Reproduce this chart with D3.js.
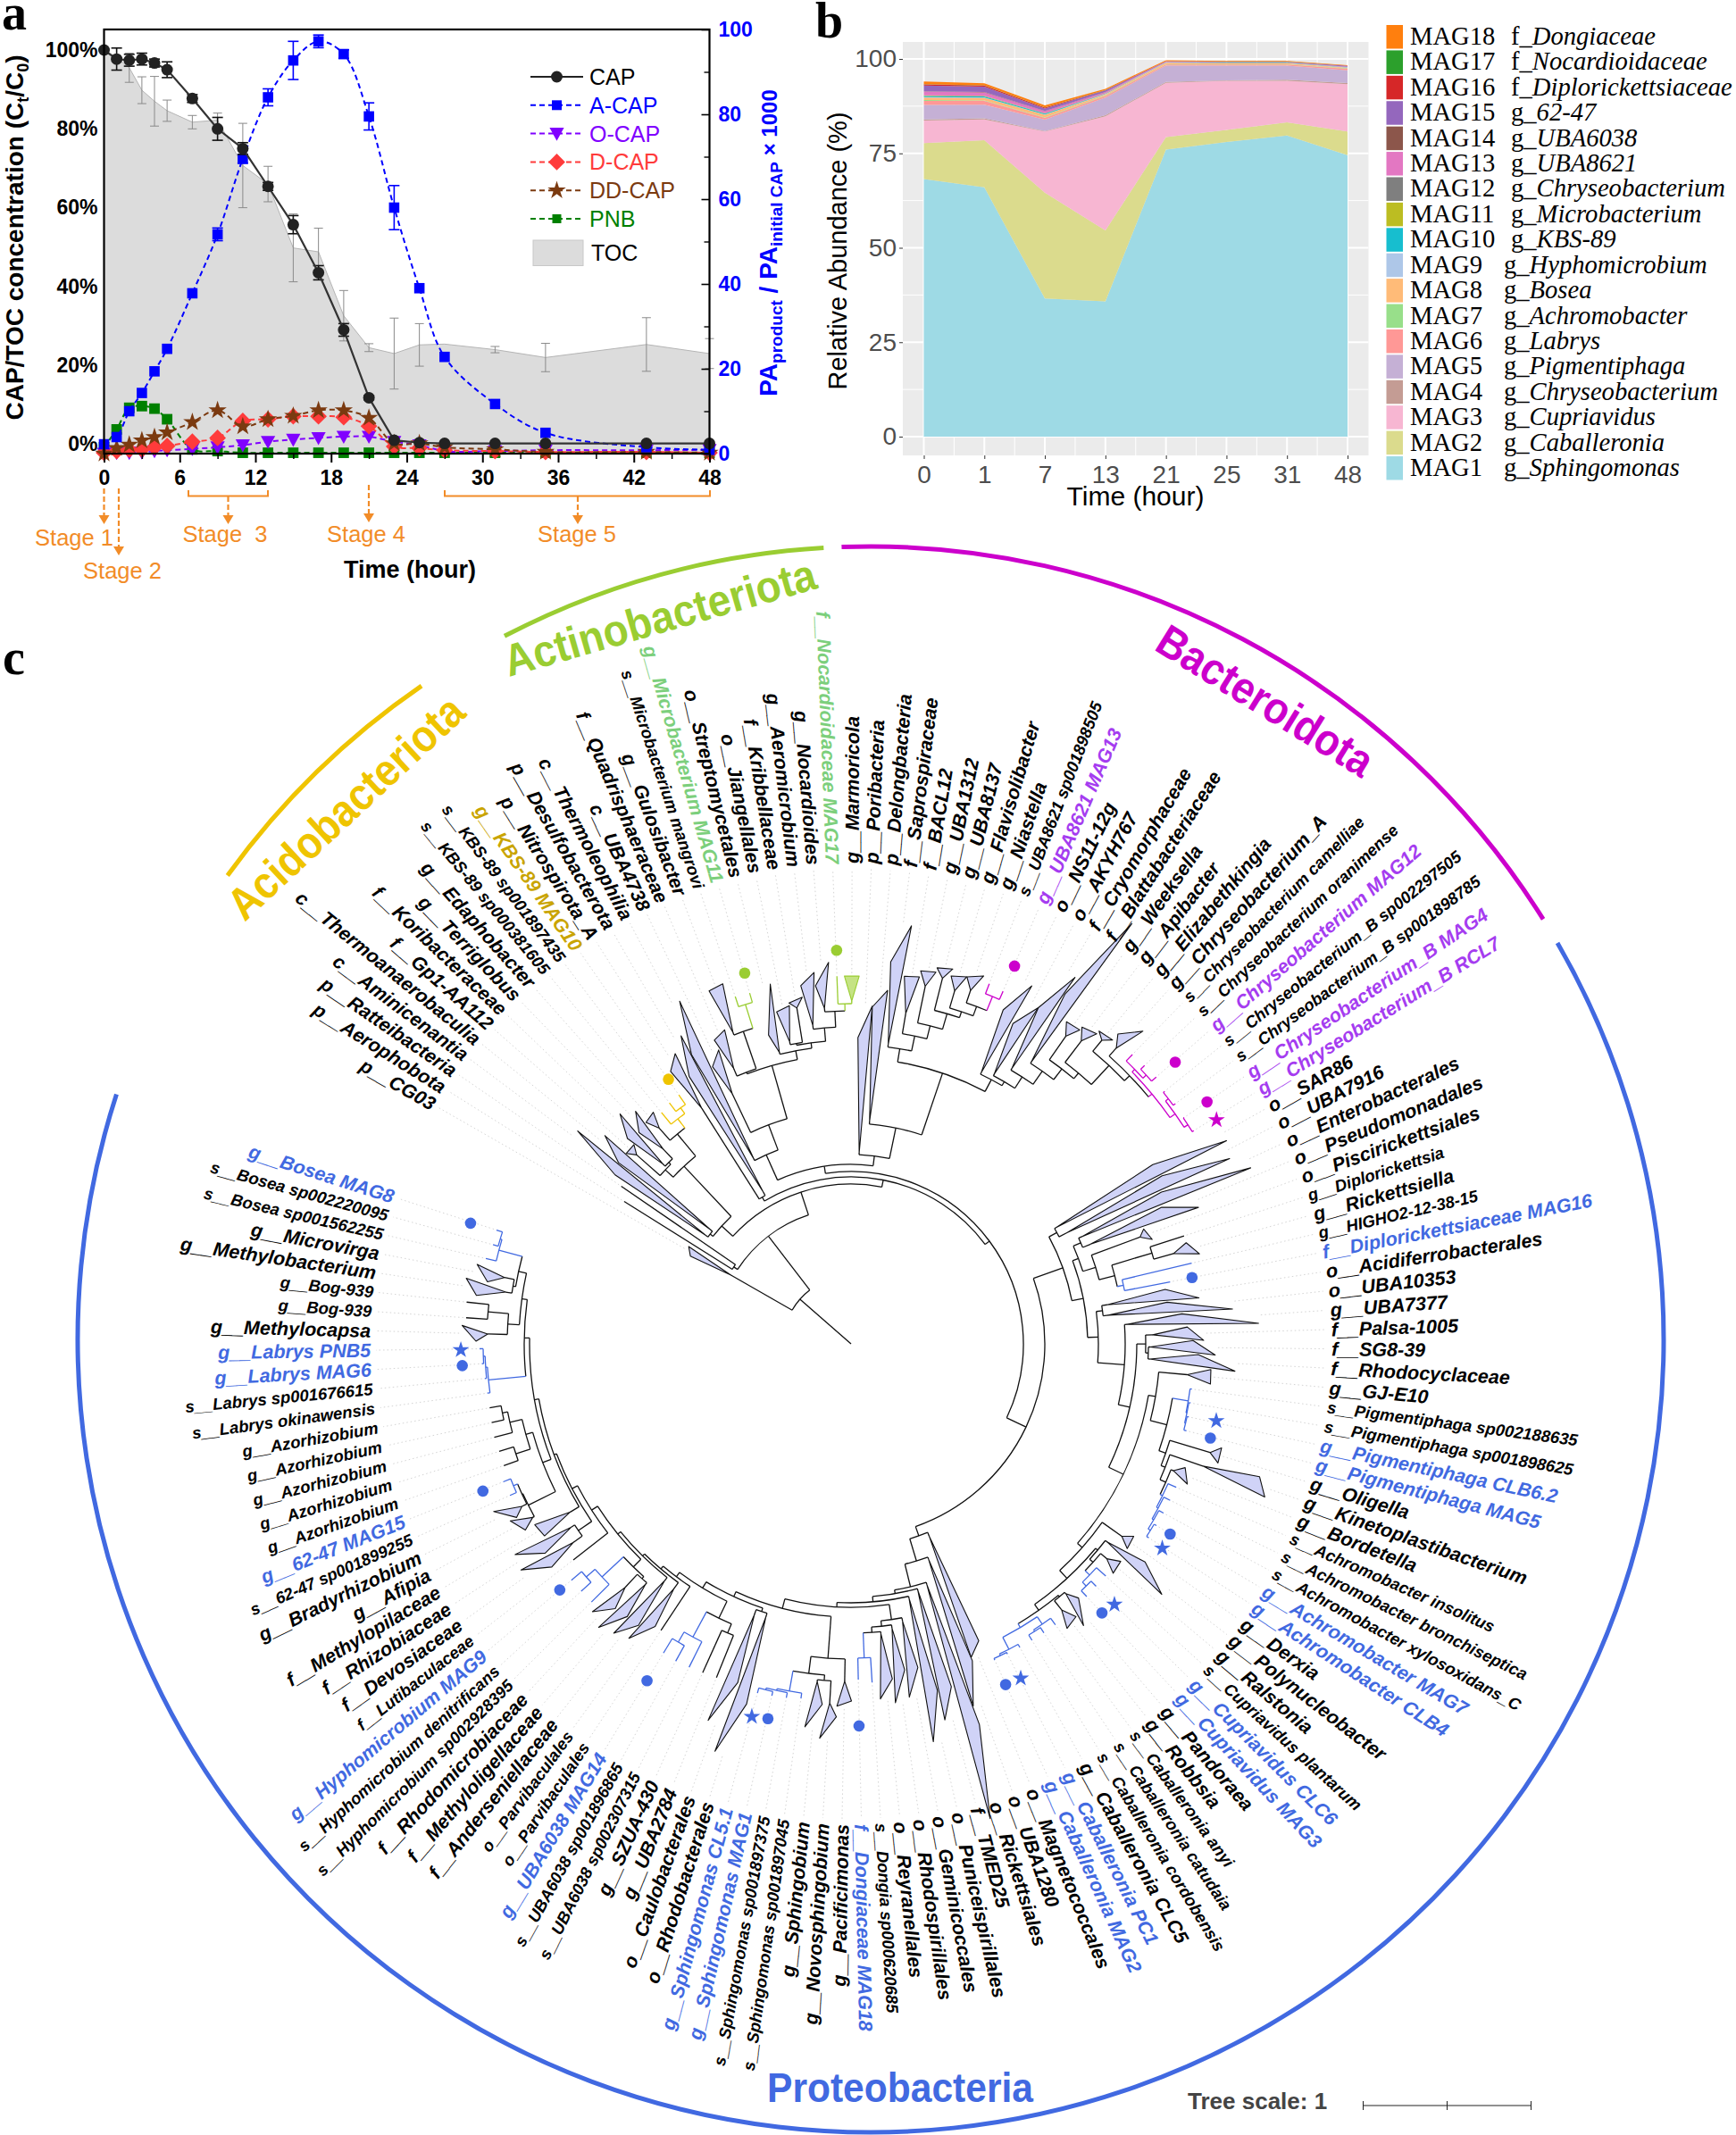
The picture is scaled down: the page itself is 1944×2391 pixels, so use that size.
<!DOCTYPE html>
<html>
<head>
<meta charset="utf-8">
<script src="https://cdnjs.cloudflare.com/ajax/libs/d3/7.8.5/d3.min.js"></script>
<style>
body { margin: 0; background: #fff; }
text { font-family: "Liberation Sans", Arial, sans-serif; }
</style>
</head>
<body>
<svg id="fig" width="1944" height="2391"></svg>
<script>
// ---------- panel a data ----------
const hours = [0,1,2,3,4,5,7,9,11,13,15,17,19,21,23,25,27,31,35,43,48];
const capPct = [100,97.7,97.4,97.7,96.7,95,87.7,80,75,65.4,55.7,43.5,29,11.8,1,0.4,0.2,0.2,0.2,0.2,0.2];
const capErr = [0,2.8,1.5,1.5,1,2,1,2.9,1.5,1,2.3,1.8,1.6,0.5,0,0,0,0,0,0,0];
const tocPct = [100,98,95.5,89.8,87,84.6,81.7,82.2,70.7,66,49.8,48.8,32.6,24.5,23,25.2,25.4,24,22,25.3,23];
const tocErr = [0,0,3.7,3.4,6.3,2.7,1.7,1.8,10.7,4.5,8.6,6,6.4,1,9,5.4,0,0.8,3.6,6.8,3.8];
const aCap = [2.2,3.9,10,14.3,19.4,24.7,37.8,51.7,69.5,84,92.7,97.2,94.2,79.5,58,39,22.8,11.7,4.9,1.5,0.9];
const aCapErr = [0,0,0,0,0,0,0,1.5,1,2,4.5,1.5,1,3.2,5.2,0,0,0,0,0,0];
const oCap = [0,0.2,0.2,0.3,0.6,0.8,1.1,1.5,2,2.8,3.3,3.7,4,4,2.8,2,0.6,0.6,0.8,0.8,0.9];
const dCap = [0.2,0.6,0.9,1,1.5,1.8,2.8,3.7,7.7,8.1,8.8,8.8,8.6,6.5,1.7,1.3,0.8,0.6,0.4,0.4,0.2];
const ddCap = [0,1.3,2.1,3.1,3.9,5,7.4,10.2,6.4,8.1,8.9,10.2,10.2,8.4,2.4,2.4,1.5,1,0.4,0.4,0.2];
const pnb = [1.5,5.7,10.8,11.2,10.6,8.1,1,0.6,0.2,0.2,0.2,0.2,0.2,0.2,0.2,0.2,0.2,0.2,0.2,0.2,0.2];
const legendA = ["CAP","A-CAP","O-CAP","D-CAP","DD-CAP","PNB"];

// ---------- panel b data ----------
const sampleHours = ["0","1","7","13","21","25","31","48"];
const mag1 = [68.2,66,36.6,35.8,76,78,79.7,74.5];
const mag2 = [9.5,12.5,28,18.8,3.3,3.2,3.5,6.3];
const mag3 = [6,5.5,16.2,30.2,14.4,13,11,12.5];
const mag4 = [0.3,0.3,0.1,0.3,0.2,0.1,0.3,0.3];
const mag5 = [3.8,3.6,3,4.7,4.3,3.9,3.7,3.4];
const mag6 = [1.1,1,0.5,0.4,0.3,0.3,0.3,0.4];
const mag7 = [0.2,0.1,0.1,0.1,0.1,0.1,0.1,0.1];
const mag8 = [0.7,0.7,0.7,0.3,0.4,0.3,0.3,0.2];
const mag9 = [0.1,0.1,0.1,0.1,0.05,0.05,0.05,0.05];
const mag10 = [0.3,0.3,0.2,0.1,0.05,0.05,0.05,0.05];
const mag11 = [0.1,0.1,0.1,0.05,0.02,0.02,0.02,0.02];
const mag12 = [0.05,0.05,0.05,0.05,0.02,0.02,0.02,0.02];
const mag13 = [1,0.9,0.5,0.3,0.1,0.05,0.05,0.1];
const mag14 = [0.1,0.1,0.05,0.05,0.02,0.02,0.02,0.02];
const mag15 = [1.5,1.4,0.7,0.4,0.1,0.1,0.1,0.2];
const mag16 = [0.3,0.3,0.2,0.1,0.05,0.05,0.05,0.05];
const mag17 = [0.1,0.1,0.1,0.05,0.02,0.02,0.02,0.02];
const mag18 = [0.7,0.5,0.5,0.3,0.2,0.2,0.2,0.1];
const magSeries = [mag1,mag2,mag3,mag4,mag5,mag6,mag7,mag8,mag9,mag10,mag11,mag12,mag13,mag14,mag15,mag16,mag17,mag18];
const magRanks = ["g_","g_","g_","g_","g_","g_","g_","g_","g_","g_","g_","g_","g_","g_","g_","f_","f_","f_"];
const magNames = ["Sphingomonas","Caballeronia","Cupriavidus","Chryseobacterium","Pigmentiphaga","Labrys","Achromobacter","Bosea","Hyphomicrobium","KBS-89","Microbacterium","Chryseobacterium","UBA8621","UBA6038","62-47","Diplorickettsiaceae","Nocardioidaceae","Dongiaceae"];
const magColors = ["#9edae5","#dbdb8d","#f7b6d2","#c49c94","#c5b0d5","#ff9896","#98df8a","#ffbb78","#aec7e8","#17becf","#bcbd22","#7f7f7f","#e377c2","#8c564b","#9467bd","#d62728","#2ca02c","#ff7f0e"];

// ---------- panel c data ----------
// tips clockwise, starting at p__CG03
const treeLabels = ["p__CG03","p__Aerophobota","p__Ratteibacteria","c__Aminicenantia","c__Thermoanaerobaculia","f__Gp1-AA112","f__Koribacteraceae","g__Terriglobus","g__Edaphobacter","s__KBS-89 sp000381605","s__KBS-89 sp001897435","g__KBS-89 MAG10","p__Nitrospirota_A","p__Desulfobacterota","c__Thermoleophilia","c__UBA4738","f__Quadrisphaeraceae","g__Gulosibacter","s__Microbacterium mangrovi","g__Microbacterium MAG11","o__Streptomycetales","o__Jiangellales","f__Kribbellaceae","g__Aeromicrobium","g__Nocardioides","f__Nocardioidaceae MAG17","g__Marmoricola","p__Poribacteria","p__Delongbacteria","f__Saprospiraceae","f__BACL12","g__UBA1312","g__UBA8137","g__Flavisolibacter","g__Niastella","s__UBA8621 sp001898505","g__UBA8621 MAG13","o__NS11-12g","o__AKYH767","f__Cryomorphaceae","f__Blattabacteriaceae","g__Weeksella","g__Apibacter","g__Elizabethkingia","g__Chryseobacterium_A","s__Chryseobacterium camelliae","s__Chryseobacterium oranimense","g__Chryseobacterium MAG12","s__Chryseobacterium_B sp002297505","s__Chryseobacterium_B sp001898785","g__Chryseobacterium_B MAG4","g__Chryseobacterium_B RCL7","o__SAR86","o__UBA7916","o__Enterobacterales","o__Pseudomonadales","o__Piscirickettsiales","g__Diplorickettsia","g__Rickettsiella","g__HIGHO2-12-38-15","f__Diplorickettsiaceae MAG16","o__Acidiferrobacterales","o__UBA10353","g__UBA7377","f__Palsa-1005","f__SG8-39","f__Rhodocyclaceae","g__GJ-E10","s__Pigmentiphaga sp002188635","s__Pigmentiphaga sp001898625","g__Pigmentiphaga CLB6.2","g__Pigmentiphaga MAG5","g__Oligella","g__Kinetoplastibacterium","g__Bordetella","s__Achromobacter insolitus","s__Achromobacter bronchiseptica","s__Achromobacter xylosoxidans_C","g__Achromobacter MAG7","g__Achromobacter CLB4","g__Derxia","g__Polynucleobacter","g__Ralstonia","s__Cupriavidus plantarum","g__Cupriavidus CLC6","g__Cupriavidus MAG3","g__Pandoraea","g__Robbsia","s__Caballeronia anyi","s__Caballeronia catudaia","s__Caballeronia cordobensis","g__Caballeronia CLC5","g__Caballeronia PC1","g__Caballeronia MAG2","o__Magnetococcales","o__UBA1280","o__Rickettsiales","f__TMED25","o__Puniceispirillales","o__Geminicoccales","o__Rhodospirillales","o__Reyranellales","s__Dongia sp000620685","f__Dongiaceae MAG18","g__Pacificimonas","g__Novosphingobium","g__Sphingobium","s__Sphingomonas sp001897045","s__Sphingomonas sp001897375","g__Sphingomonas MAG1","g__Sphingomonas CL5.1","o__Rhodobacterales","o__Caulobacterales","g__UBA2784","g__SZUA-430","s__UBA6038 sp002307315","s__UBA6038 sp001896865","g__UBA6038 MAG14","o__Parvibaculales","o__Parvibaculales","f__Anderseniellaceae","f__Methyloligellaceae","f__Rhodomicrobiaceae","s__Hyphomicrobium sp002928395","s__Hyphomicrobium denitrificans","g__Hyphomicrobium MAG9","f__Lutibaculaceae","f__Devosiaceae","f__Rhizobiaceae","f__Methylopilaceae","g__Afipia","g__Bradyrhizobium","s__62-47 sp001899255","g__62-47 MAG15","g__Azorhizobium","g__Azorhizobium","g__Azorhizobium","g__Azorhizobium","g__Azorhizobium","s__Labrys okinawensis","s__Labrys sp001676615","g__Labrys MAG6","g__Labrys PNB5","g__Methylocapsa","g__Bog-939","g__Bog-939","g__Methylobacterium","g__Microvirga","s__Bosea sp001562255","s__Bosea sp002220095","g__Bosea MAG8"];
const smallTipLabels = ["g__Diplorickettsia","g__HIGHO2-12-38-15","g__Bog-939","g__Azorhizobium","f__Lutibaculaceae"];

// tips whose branches are coloured (numbered from 1 along treeLabels)
const acidoTips = [10,11,12];
const actinoTips = [19,20,26,27];
const bacteroTips = [36,37,46,47,48,49,50,51,52];
const proteoTips = [60,61,69,70,71,72,76,77,78,79,80,84,85,86,89,90,91,92,93,94,103,104,108,109,110,111,116,117,118,124,125,126,133,134,140,141,142,143,149,150,151];
const acidoNames = ["g__KBS-89 MAG10"];
const actinoNames = ["g__Microbacterium MAG11","f__Nocardioidaceae MAG17"];
const bacteroNames = ["g__UBA8621 MAG13","g__Chryseobacterium MAG12","g__Chryseobacterium_B MAG4","g__Chryseobacterium_B RCL7"];
const proteoNames = ["f__Diplorickettsiaceae MAG16","g__Pigmentiphaga CLB6.2","g__Pigmentiphaga MAG5","g__Achromobacter MAG7","g__Achromobacter CLB4","g__Cupriavidus CLC6","g__Cupriavidus MAG3","g__Caballeronia PC1","g__Caballeronia MAG2","f__Dongiaceae MAG18","g__Sphingomonas MAG1","g__Sphingomonas CL5.1","g__UBA6038 MAG14","g__Hyphomicrobium MAG9","g__62-47 MAG15","g__Labrys MAG6","g__Labrys PNB5","g__Bosea MAG8"];

// phylogeny: internal node = [distance, child, child]; collapsed clade = [apex, short, long]; single tip = [tip]
const cladeAcido = [196,
  [200,[203,325,388],[203,330,361]],
  [273,
    [285,[320,330,330],[288,[291,340,365],[303,335,355]]],
    [305,[323,338,341],[318,[335],[326,[338],[339]]]]]];
const cladeMicro = [326,[335,373,379],[370,[373,426,428],[398,[410],[409]]]];
const cladeNocard = [334,[336,358,413],[340,[342,[345,381,385],[381,388,392]],[355,[359,405,418],[373,[377,403,428],[381,[412],[384,412,412]]]]]];
const cladeSapro = [335,[338,430,473],[352,[375,416,418],[367,[409,425,427],[385,[422,432,435],[392,[412,427,431],[403,[418,431,438],[420,[432],[430]]]]]]]];
const cladeChryseo = [438,[442,[452],[447,[453],[454]]],[445,[449,[451],[452]],[450,[451],[452]]]];
const cladeBactero = [335,[337,411,449],[340,[342,402,431],[355,[357,431,481],[373,[375,459,566],[388,[420,434,435],[396,[426,439,443],[425,[441,447,449],[433,[445,458,479],cladeChryseo]]]]]]]];
const cladeRickett = [272,[281,[285,387,489],[290,380,418]],[287,[345,352,357],[305,[352,[392],[375,392,403]],[312,[392],[364]]]]];
const cladeBurk = [365,[383,[385],[384,[386],[385,[387],[388]]]],[373,[420,431,432],[378,[417,481,494],[385,[388,399,408],[388,[398],[390,[398],[392,[398],[395,[398],[398]]]]]]]]];
const cladeRalst = [345,[372,383,385],[357,
  [360,[363,410,447],[365,[374,388,390],[372,[386],[378,[386],[387]]]]],
  [365,[367,[369,382,409],[380,396,400]],[370,[380,[389],[382,[389],[389]]],[385,[389],[387,[389],[389]]]]]]];
const cladeBeta = [320,[330,[338,377,395],[333,[335,383,408],[335,389,431]]],[338,[346,[378,404,405],cladeBurk],cladeRalst]];
const cladeGamma = [252,[262,[264,393,478],[272,396,472]],[265,cladeRickett,[277,[284,[290,357,393],[290,357,429]],[307,[310,372,457],cladeBeta]]]];
const cladeDongia = [312,[316,370,401],[318,[322,370,405],[324,[326,378,399],[352,[380],[376]]]]];
const cladeSphingo = [353,[378,400,406],[372,[378,[403,418,443],[380,405,432]],[395,[401],[397,[403],[399,[404],[405]]]]]];
const cladeUba6038 = [341,[352,[403],[404]],[373,[405],[386,[406],[405]]]];
const cladeHypho = [349,[352,[354,395,425],[372,397,417]],[382,[410],[395,[410],[410]]]];
const cladeRhizo = [370,[404,[406,420,430],[405,[411,422,442],[410,[418],[419]]]],[378,[395,[412],[412]],[392,[413],[398,[412],[411]]]]];
const cladeBosea = [366,[408,[411],[410,[412],[412,[414],[416]]]],[372,[385,[407,420,436],[408,[432],[433]]],[381,[384,[391,423,437],[395,413,428]],[408,[420],[410,[416],[417]]]]]];
const cladeLeftArc = [345,[394],[352,[370,[382,418,448],[375,415,444]],[355,[367,405,408],[360,cladeRhizo,cladeBosea]]]];
const cladeParvi = [326,[385],[330,[338,385,413],[333,[337,395,419],[337,cladeHypho,cladeLeftArc]]]];
const cladeAlpha = [228,[232,362,376],[254,[256,380,428],[280,[282,450,554],[284,[286,400,434],[290,[292,400,455],
  [295,cladeDongia,[306,cladeSphingo,[312,[316,[320,420,481],[322,400,451]],[320,cladeUba6038,cladeParvi]]]]]]]]];
const cladeActino = [262,[310,347,361],[324,cladeMicro,cladeNocard]];
const cladeUpper = [201,[232,[234,370,429],cladeActino],[212,[214,343,379],[247,[250,378,398],[320,cladeSapro,cladeBactero]]]];
const treeData = [76,[155,205,212],[152,[157,[300],[312]],
  [179,cladeAcido,[187,[192,[312,366,380],[196,350,394]],[193,cladeUpper,[217,cladeGamma,cladeAlpha]]]]]];

// dots (MAG) and stars (isolate) beside highlighted clades: [angle, distance]
const acidoDots = [[-34.6,360]];
const actinoDots = [[-16,432],[-2.1,441]];
const bacteroDots = [[23.4,461],[49,481],[55.8,482]];
const bacteroStars = [[58.5,480]];
const proteoDots = [[79,389],[104.7,416],[120.8,416],[137,412],[155.6,419],[178.8,428],[192.5,430],[211.2,441],[229.8,427],[248.2,444],[266.8,436],[287.6,447]];
const proteoStars = [[101.9,418],[123.3,417],[134.7,415],[153.1,420],[194.9,432],[269.1,437]];

// phylum arcs: [name, start angle, end angle]
const phylaNames = ["Acidobacteriota","Actinobacteriota","Bacteroidota","Proteobacteria"];
const phylaStart = [-54.2,-27.5,-2.1,60];
const phylaEnd = [-34.5,-3.4,58,288];
const phylaColors = ["#efc400","#9acd32","#cc00cc","#4169e1"];

const svg = d3.select("#fig");
const orange = "#f28c28";

// ---------------- panel a ----------------
const ax = {left:116.5, right:794.5, top:33, bottom:508};
const xA = d3.scaleLinear().domain([0,48]).range([ax.left,ax.right]);
const yLeft = d3.scaleLinear().domain([0,100]).range([497.5,56]);
const yRight = d3.scaleLinear().domain([0,100]).range([ax.bottom,ax.top]);
const gA = svg.append("g");

const tocArea = d3.area().x((d,i)=>xA(hours[i])).y0(ax.bottom).y1(d=>yLeft(d));
gA.append("path").datum(tocPct).attr("d",tocArea).attr("fill","#dcdcdc");
gA.append("path").datum(tocPct).attr("d",d3.line().x((d,i)=>xA(hours[i])).y(d=>yLeft(d))).attr("fill","none").attr("stroke","#b5b5b5");

function errorBars(g, values, errs, yScale, color, width, cap) {
  values.forEach((v,i)=>{
    if (!errs[i]) return;
    const x = xA(hours[i]);
    g.append("line").attr("x1",x).attr("x2",x).attr("y1",yScale(v-errs[i])).attr("y2",yScale(v+errs[i])).attr("stroke",color).attr("stroke-width",width);
    [v-errs[i],v+errs[i]].forEach(e=>{
      g.append("line").attr("x1",x-cap).attr("x2",x+cap).attr("y1",yScale(e)).attr("y2",yScale(e)).attr("stroke",color).attr("stroke-width",width);
    });
  });
}
errorBars(gA,tocPct,tocErr,yLeft,"#8a8a8a",1,5);

const symTri = {draw(c,s){ const h=Math.sqrt(s); c.moveTo(-h*0.62,-h*0.5); c.lineTo(h*0.62,-h*0.5); c.lineTo(0,h*0.62); c.closePath(); }};
const symDia = {draw(c,s){ const h=Math.sqrt(s)*0.72; c.moveTo(0,-h); c.lineTo(h,0); c.lineTo(0,h); c.lineTo(-h,0); c.closePath(); }};

const seriesA = [
  {values:pnb, color:"#008000", sym:d3.symbolSquare, size:140, order:5},
  {values:oCap, color:"#8000ff", sym:symTri, size:170, order:2},
  {values:dCap, color:"#ff3b3b", sym:symDia, size:170, order:3},
  {values:ddCap, color:"#7b3a10", sym:d3.symbolStar, size:130, order:4},
  {values:aCap, color:"#0000ff", sym:d3.symbolSquare, size:135, order:1}
];
const lineRight = d3.line().x((d,i)=>xA(hours[i])).y(d=>yRight(d)).curve(d3.curveCatmullRom.alpha(0.5));
seriesA.forEach(s=>{
  gA.append("path").datum(s.values).attr("d",lineRight).attr("fill","none").attr("stroke",s.color).attr("stroke-width",2).attr("stroke-dasharray","6,4");
  if (s.values === aCap) errorBars(gA,aCap,aCapErr,yRight,"#0000ff",1.6,6);
  gA.selectAll(null).data(s.values).enter().append("path")
    .attr("d",d3.symbol().type(s.sym).size(s.size))
    .attr("transform",(d,i)=>"translate("+xA(hours[i])+","+yRight(d)+")")
    .attr("fill",s.color);
});

errorBars(gA,capPct,capErr,yLeft,"#111",1.6,6);
gA.append("path").datum(capPct).attr("d",d3.line().x((d,i)=>xA(hours[i])).y(d=>yLeft(d))).attr("fill","none").attr("stroke","#333").attr("stroke-width",2.2);
gA.selectAll(null).data(capPct).enter().append("circle")
  .attr("cx",(d,i)=>xA(hours[i])).attr("cy",d=>yLeft(d)).attr("r",6.5).attr("fill","#222");

gA.append("rect").attr("x",ax.left).attr("y",ax.top).attr("width",ax.right-ax.left).attr("height",ax.bottom-ax.top)
  .attr("fill","none").attr("stroke","#000").attr("stroke-width",2.2);

const xAxisA = d3.axisBottom(xA).tickValues(d3.range(0,49,6)).tickSize(10).tickFormat(d3.format("d"));
const xAxisAg = gA.append("g").attr("transform","translate(0,"+ax.bottom+")").call(xAxisA);
xAxisAg.select(".domain").remove();
xAxisAg.selectAll("line").attr("stroke-width",2);
xAxisAg.selectAll("text").attr("font-size",23).attr("font-weight","bold").attr("dy","0.95em");
gA.append("g").attr("transform","translate(0,"+ax.bottom+")")
  .call(d3.axisBottom(xA).tickValues(d3.range(3,48,6)).tickSize(6).tickFormat(""))
  .call(g=>g.select(".domain").remove()).selectAll("line").attr("stroke-width",1.5);

const yLeftAxis = d3.axisLeft(yLeft).tickValues(d3.range(0,101,20)).tickSize(0).tickFormat(d=>d+"%");
const yLeftg = gA.append("g").attr("transform","translate("+ax.left+",0)").call(yLeftAxis);
yLeftg.select(".domain").remove();
yLeftg.selectAll("text").attr("font-size",23).attr("font-weight","bold").attr("dx",-4);

const yRightAxis = d3.axisRight(yRight).tickValues(d3.range(0,101,20)).tickSize(-9);
const yRightg = gA.append("g").attr("transform","translate("+ax.right+",0)").call(yRightAxis);
yRightg.select(".domain").remove();
yRightg.selectAll("line").attr("stroke","#000").attr("stroke-width",1.6);
yRightg.selectAll("text").attr("font-size",23).attr("font-weight","bold").attr("fill","#0000ff").attr("x",10);
gA.append("g").attr("transform","translate("+ax.right+",0)")
  .call(d3.axisRight(yRight).tickValues(d3.range(10,100,20)).tickSize(-6).tickFormat(""))
  .call(g=>g.select(".domain").remove()).selectAll("line").attr("stroke-width",1.4);

const yTitle = gA.append("text").attr("transform","translate(26,266) rotate(-90)").attr("text-anchor","middle").attr("font-size",28).attr("font-weight","bold");
yTitle.append("tspan").text("CAP/TOC concentration (C");
yTitle.append("tspan").text("t").attr("font-size",18).attr("dy",6);
yTitle.append("tspan").text("/C").attr("dy",-6);
yTitle.append("tspan").text("0").attr("font-size",18).attr("dy",6);
yTitle.append("tspan").text(")").attr("dy",-6);
const rTitle = gA.append("text").attr("transform","translate(870,272) rotate(-90)").attr("text-anchor","middle").attr("font-size",28).attr("font-weight","bold").attr("fill","#0000ff");
rTitle.append("tspan").text("PA");
rTitle.append("tspan").text("product").attr("font-size",19).attr("dy",6);
rTitle.append("tspan").text(" / PA").attr("dy",-6);
rTitle.append("tspan").text("initial CAP").attr("font-size",19).attr("dy",6);
rTitle.append("tspan").text("  × 1000").attr("dy",-6).attr("font-size",24);

gA.append("text").attr("x",459).attr("y",647).attr("text-anchor","middle").attr("font-size",27).attr("font-weight","bold").text("Time (hour)");

// panel a legend
const legendY = d3.scalePoint().domain(legendA).range([86,245]);
const legendColors = ["#222","#0000ff","#8000ff","#ff3b3b","#7b3a10","#008000"];
const legendSyms = [d3.symbolCircle,d3.symbolSquare,symTri,symDia,d3.symbolStar,d3.symbolSquare];
const legendSize = [130,120,170,170,130,100];
legendA.forEach((name,i)=>{
  const y = legendY(name);
  gA.append("line").attr("x1",594).attr("x2",653).attr("y1",y).attr("y2",y).attr("stroke",legendColors[i]).attr("stroke-width",2).attr("stroke-dasharray",i?"6,4":null);
  gA.append("path").attr("d",d3.symbol().type(legendSyms[i]).size(legendSize[i])).attr("transform","translate(623.5,"+y+")").attr("fill",legendColors[i]);
  gA.append("text").attr("x",660).attr("y",y+9).attr("font-size",25).attr("fill",i?legendColors[i]:"#000").text(name);
});
gA.append("rect").attr("x",597).attr("y",269).attr("width",56).attr("height",28.5).attr("fill","#dcdcdc").attr("stroke","#c8c8c8");
gA.append("text").attr("x",662).attr("y",292).attr("font-size",25).text("TOC");

// stages
function stageArrow(x,y1,y2){
  gA.append("line").attr("x1",x).attr("x2",x).attr("y1",y1).attr("y2",y2-8).attr("stroke",orange).attr("stroke-width",2.2).attr("stroke-dasharray","6,3");
  gA.append("path").attr("d","M"+(x-6)+","+(y2-10)+"L"+(x+6)+","+(y2-10)+"L"+x+","+y2+"Z").attr("fill",orange);
}
function stageBracket(a,b){
  gA.append("path").attr("d","M"+a+",549V555.5H"+b+"V549").attr("fill","none").attr("stroke",orange).attr("stroke-width",2);
}
stageArrow(116.5,547,587); stageArrow(133,547,622);
stageBracket(211,300); stageArrow(255.5,556,587);
stageArrow(413,543,585);
stageBracket(498,795); stageArrow(647,556,587);
[["Stage 1",83,611],["Stage 2",137,648],["Stage  3",252,607],["Stage 4",410,607],["Stage 5",646,607]].forEach(s=>{
  gA.append("text").attr("x",s[1]).attr("y",s[2]).attr("text-anchor","middle").attr("font-size",25.5).attr("fill",orange).attr("xml:space","preserve").text(s[0]);
});

// panel letters
[["a",2,33],["b",913,42],["c",3,755]].forEach(l=>{
  svg.append("text").attr("x",l[1]).attr("y",l[2]).attr("font-size",56).attr("font-weight","bold").style("font-family","'Liberation Serif',serif").text(l[0]);
});

// ---------------- panel b ----------------
const bx = {left:1011, right:1532.5, top:47, bottom:510};
const xB = d3.scalePoint().domain(sampleHours).range([1034.5,1509]);
const yB = d3.scaleLinear().domain([0,100]).range([489,66]);
const gB = svg.append("g");
gB.append("rect").attr("x",bx.left).attr("y",bx.top).attr("width",bx.right-bx.left).attr("height",bx.bottom-bx.top).attr("fill","#ebebeb");
gB.selectAll(null).data(d3.range(12.5,100,25)).enter().append("line").attr("x1",bx.left).attr("x2",bx.right).attr("y1",d=>yB(d)).attr("y2",d=>yB(d)).attr("stroke","#fff").attr("stroke-width",1);
gB.selectAll(null).data(d3.range(0,101,25)).enter().append("line").attr("x1",bx.left).attr("x2",bx.right).attr("y1",d=>yB(d)).attr("y2",d=>yB(d)).attr("stroke","#fff").attr("stroke-width",2);
gB.selectAll(null).data(sampleHours).enter().append("line").attr("x1",d=>xB(d)).attr("x2",d=>xB(d)).attr("y1",bx.top).attr("y2",bx.bottom).attr("stroke","#fff").attr("stroke-width",2);
gB.selectAll(null).data(sampleHours.slice(1)).enter().append("line").attr("x1",d=>xB(d)-xB.step()/2).attr("x2",d=>xB(d)-xB.step()/2).attr("y1",bx.top).attr("y2",bx.bottom).attr("stroke","#fff").attr("stroke-width",1);

const stackRows = sampleHours.map((h,i)=>{ const r={hour:h}; magSeries.forEach((s,k)=>{ r[k]=s[i]; }); return r; });
const stacked = d3.stack().keys(magSeries.map((s,k)=>k))(stackRows);
const areaB = d3.area().x(d=>xB(d.data.hour)).y0(d=>yB(d[0])).y1(d=>yB(d[1]));
gB.selectAll(null).data(stacked).enter().append("path").attr("d",areaB).attr("fill",(d,i)=>magColors[i]);

const xAxisB = gB.append("g").attr("transform","translate(0,"+bx.bottom+")").call(d3.axisBottom(xB).tickSize(4));
xAxisB.select(".domain").remove();
xAxisB.selectAll("text").attr("font-size",28).attr("fill","#4d4d4d").attr("dy","0.85em");
xAxisB.selectAll("line").attr("stroke","#333");
const yAxisB = gB.append("g").attr("transform","translate("+bx.left+",0)").call(d3.axisLeft(yB).tickValues(d3.range(0,101,25)).tickSize(4));
yAxisB.select(".domain").remove();
yAxisB.selectAll("text").attr("font-size",28).attr("fill","#4d4d4d");
yAxisB.selectAll("line").attr("stroke","#333");
gB.append("text").attr("transform","translate(948,281) rotate(-90)").attr("text-anchor","middle").attr("font-size",29).text("Relative Abundance (%)");
gB.append("text").attr("x",1271.5).attr("y",566).attr("text-anchor","middle").attr("font-size",30).text("Time (hour)");

const keyY = d3.scalePoint().domain(d3.range(18,0,-1)).range([41,524]);
d3.range(18,0,-1).forEach(n=>{
  const i = n-1, y = keyY(n);
  gB.append("rect").attr("x",1552.5).attr("y",y-13).attr("width",18.5).attr("height",26.5).attr("fill",magColors[i]);
  const t = gB.append("text").attr("y",y+9).attr("font-size",28.6).style("font-family","'Liberation Serif',serif");
  t.append("tspan").attr("x",1579).text("MAG"+n);
  t.append("tspan").attr("x",n>9?1692:1684).text(magRanks[i]);
  t.append("tspan").attr("font-style","italic").text(magNames[i]);
});

// ---------------- panel c ----------------
const cx = 953, cy = 1505, arcCx = 975, arcCy = 1500;
const gC = svg.append("g").attr("transform","translate("+cx+","+cy+")");
const labelRadius = 538;
const angleScale = d3.scalePoint().domain(d3.range(treeLabels.length)).range([-60.2,287.8]);
const dist = d3.scaleLinear().domain([0,188]).range([0,188]);   // 188 units = tree scale 1
const toRad = a => a*Math.PI/180;
const spread = 1.15;

const root = d3.hierarchy(treeData, d => Array.isArray(d[1]) ? d.slice(1) : null);
const tipNodes = root.leaves();
if (tipNodes.length !== treeLabels.length) console.log("tips "+tipNodes.length+" labels "+treeLabels.length);
tipNodes.forEach((n,i)=>{ n.tip = i; n.angle = angleScale(i); });
root.eachAfter(n=>{
  if (n.children) {
    n.angle = (n.children[0].angle + n.children[n.children.length-1].angle)/2;
    n.first = n.children[0].angle;
    n.last = n.children[n.children.length-1].angle;
  }
  n.dist = n.data[0];
});

function tipColor(i){
  const k = i+1;
  if (acidoTips.includes(k)) return phylaColors[0];
  if (actinoTips.includes(k)) return phylaColors[1];
  if (bacteroTips.includes(k)) return phylaColors[2];
  if (proteoTips.includes(k)) return phylaColors[3];
  return null;
}
root.eachAfter(n=>{
  if (!n.children) { n.color = tipColor(n.tip); return; }
  const cols = n.children.map(c=>c.color);
  n.color = (cols[0] && cols.every(c=>c===cols[0])) ? cols[0] : null;
});

// dotted guides to the labels
gC.selectAll(null).data(tipNodes).enter().append("path")
  .attr("d",n=>{
    const r0 = n.data.length===3 ? Math.max(n.data[1],n.data[2]) : n.data[0];
    if (r0 > labelRadius-8) return null;
    return d3.lineRadial()([[toRad(n.angle),dist(r0)+3],[toRad(n.angle),labelRadius-6]]);
  })
  .attr("fill","none").attr("stroke","#d4d4d4").attr("stroke-width",1).attr("stroke-dasharray","1.5,3");

// branches
const arcGen = d3.arc();
root.descendants().forEach(n=>{
  const col = n.color || "#111";
  if (n.parent || n === root) {
    const r0 = n.parent ? n.parent.dist : 0;
    gC.append("path").attr("d",d3.lineRadial()([[toRad(n.angle),dist(r0)],[toRad(n.angle),dist(n.dist)]]))
      .attr("fill","none").attr("stroke",col).attr("stroke-width",1.3);
  }
  if (n.children) {
    gC.append("path").attr("d",arcGen({innerRadius:dist(n.dist),outerRadius:dist(n.dist),startAngle:toRad(n.first),endAngle:toRad(n.last)}))
      .attr("fill","none").attr("stroke",col).attr("stroke-width",1.3);
  }
});

// collapsed clades
gC.selectAll(null).data(tipNodes.filter(n=>n.data.length===3)).enter().append("polygon")
  .attr("points",n=>[
    d3.pointRadial(toRad(n.angle),dist(n.data[0])),
    d3.pointRadial(toRad(n.angle-spread),dist(n.data[1])),
    d3.pointRadial(toRad(n.angle+spread),dist(n.data[2]))
  ].map(p=>p.join(",")).join(" "))
  .attr("fill",n=>n.color ? "#c5e384" : "#d0d3f7")
  .attr("stroke",n=>n.color || "#111").attr("stroke-width",1.1).attr("stroke-linejoin","round");

// markers
function placeMarkers(list,type,size,color){
  gC.selectAll(null).data(list).enter().append("path")
    .attr("d",d3.symbol().type(type).size(size))
    .attr("transform",d=>{ const p=d3.pointRadial(toRad(d[0]),dist(d[1])); return "translate("+p[0]+","+p[1]+")"; })
    .attr("fill",color);
}
placeMarkers(acidoDots,d3.symbolCircle,125,phylaColors[0]);
placeMarkers(actinoDots,d3.symbolCircle,125,phylaColors[1]);
placeMarkers(bacteroDots,d3.symbolCircle,125,phylaColors[2]);
placeMarkers(bacteroStars,d3.symbolStar,110,phylaColors[2]);
placeMarkers(proteoDots,d3.symbolCircle,125,phylaColors[3]);
placeMarkers(proteoStars,d3.symbolStar,110,phylaColors[3]);

// tip labels
function labelColor(name){
  if (acidoNames.includes(name)) return "#c9a400";
  if (actinoNames.includes(name)) return "#7ccf7c";
  if (bacteroNames.includes(name)) return "#a53cf0";
  if (proteoNames.includes(name)) return "#4169e1";
  return "#000";
}
gC.selectAll(null).data(treeLabels).enter().append("text")
  .attr("transform",(d,i)=>{
    const a = angleScale(i), flip = a<0 || a>180;
    return "rotate("+(a-90)+") translate("+labelRadius+",0)"+(flip?" rotate(180)":"");
  })
  .attr("text-anchor",(d,i)=>{ const a=angleScale(i); return (a<0||a>180)?"end":"start"; })
  .attr("dy","0.35em")
  .attr("font-style","italic")
  .attr("font-weight","bold")
  .attr("font-size",d=>(d.startsWith("s__")||smallTipLabels.includes(d)||d==="o__Parvibaculales")?18.5:21.5)
  .attr("fill",d=>labelColor(d))
  .text(d=>d);

// phylum arcs
const gPhyla = svg.append("g").attr("transform","translate("+arcCx+","+arcCy+")");
phylaNames.forEach((name,i)=>{
  gPhyla.append("path").attr("d",arcGen({innerRadius:888,outerRadius:888,startAngle:toRad(phylaStart[i]),endAngle:toRad(phylaEnd[i])}))
    .attr("fill","none").attr("stroke",phylaColors[i]).attr("stroke-width",5);
});
const titleX = [274,570,1291,859];
const titleY = [1033,758,727,2354];
const titleRot = [-42.9,-16,31.8,0];
const titleLen = [341,361,275,298];
phylaNames.forEach((name,i)=>{
  svg.append("text").attr("transform","translate("+titleX[i]+","+titleY[i]+") rotate("+titleRot[i]+")")
    .attr("font-size",i===3?47:50).attr("font-weight","bold").attr("fill",phylaColors[i])
    .attr("textLength",titleLen[i]).attr("lengthAdjust","spacingAndGlyphs").text(name);
});

// tree scale
const barScale = d3.scaleLinear().domain([0,1]).range([1526,1714]);
svg.append("text").attr("x",1330).attr("y",2362).attr("font-size",26).attr("font-weight","bold").attr("fill","#444").text("Tree scale: 1");
svg.append("g").attr("transform","translate(0,2358)")
  .call(d3.axisBottom(barScale).tickValues([0,0.5,1]).tickSize(5).tickFormat(""))
  .call(g=>g.select(".domain").attr("d","M1526,0H1714").attr("stroke","#222"))
  .selectAll("line").attr("y1",-5).attr("y2",5).attr("stroke","#222");
</script>
</body>
</html>
